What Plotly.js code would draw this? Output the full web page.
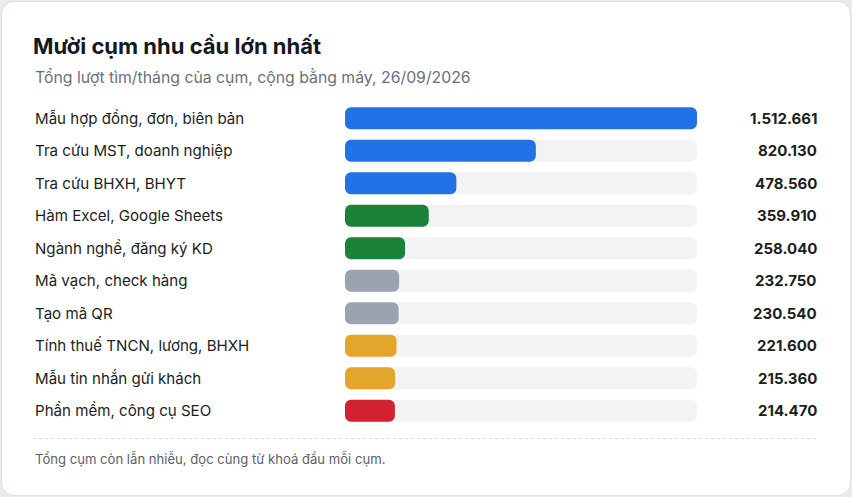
<!DOCTYPE html>
<html>
<head>
<meta charset="utf-8">
<script src="https://cdn.plot.ly/plotly-3.0.1.min.js"></script>
<style>
  html, body { margin: 0; padding: 0; background: #e9ebef; }
  #card {
    position: absolute; left: 1px; top: 1px; width: 848px; height: 493px;
    background: #ffffff; border: 1px solid #dde0e5; border-radius: 13px;
  }
  #chart { position: absolute; left: 0; top: 0; width: 852px; height: 497px; }
</style>
</head>
<body>
<div id="card"></div>
<div id="chart"></div>
<script>
// Top 10 clusters, in display order (top to bottom)
const categories = [
  'Mẫu hợp đồng, đơn, biên bản',
  'Tra cứu MST, doanh nghiệp',
  'Tra cứu BHXH, BHYT',
  'Hàm Excel, Google Sheets',
  'Ngành nghề, đăng ký KD',
  'Mã vạch, check hàng',
  'Tạo mã QR',
  'Tính thuế TNCN, lương, BHXH',
  'Mẫu tin nhắn gửi khách',
  'Phần mềm, công cụ SEO',
];
const searches = [1512661, 820130, 478560, 359910, 258040, 232750, 230540, 221600, 215360, 214470];

// bar colours per row
const barColors = ['#2271e6', '#2271e6', '#2271e6', '#1c8139', '#1c8139',
  '#9ca3ae', '#9ca3ae', '#e3a62a', '#e3a62a', '#d2212f'];

const W = 852, H = 497;
const plotTop = 101.8, plotBottom = 426.6;
const plotH = plotBottom - plotTop;

// convert a pixel y (from top) to paper y
function py(px) {
  return (plotBottom - px) / plotH;
}

function fmtVN(n) {
  return String(n).replace(/\B(?=(\d{3})+(?!\d))/g, '.');
}

const maxVal = Math.max(...searches);
const tracks = categories.map(() => maxVal);

// with an explicit base Plotly rounds both ends of the bar
function roundedBar(vals, color) {
  return {
    type: 'bar', orientation: 'h', y: categories,
    base: vals.map(() => 0),
    x: vals,
    marker: { color: color, cornerradius: 6, line: { width: 0 } },
    width: 0.68, hoverinfo: 'skip',
  };
}

var traces = [roundedBar(tracks, '#f2f3f5'), roundedBar(searches, barColors)];

var annotations = [];

// Row labels (left) and values (right)
categories.forEach((c, i) => {
  annotations.push({
    xref: 'paper', yref: 'y', x: 33 / W, y: c, xanchor: 'left', yanchor: 'middle',
    text: c, showarrow: false,
    font: { family: 'Inter, sans-serif', size: 15.1, color: '#1b1e22' },
  });
  annotations.push({
    xref: 'paper', yref: 'y', x: 819 / W, y: c, xanchor: 'right', yanchor: 'middle',
    text: '<b>' + fmtVN(searches[i]) + '</b>', showarrow: false,
    font: { family: 'Inter, sans-serif', size: 15, color: '#1b1e22' },
  });
});

// Subtitle
annotations.push({
  xref: 'paper', yref: 'paper', x: 33 / W, y: py(77), xanchor: 'left', yanchor: 'middle',
  text: 'Tổng lượt tìm/tháng của cụm, cộng bằng máy, 26/09/2026', showarrow: false,
  font: { family: 'Inter, sans-serif', size: 15.8, color: '#6b7078' },
});

// Footnote
annotations.push({
  xref: 'paper', yref: 'paper', x: 33 / W, y: py(458), xanchor: 'left', yanchor: 'middle',
  text: 'Tổng cụm còn lẫn nhiễu, đọc cùng từ khoá đầu mỗi cụm.', showarrow: false,
  font: { family: 'Inter, sans-serif', size: 13.1, color: '#5b6068' },
});

var layout = {
  width: W,
  height: H,
  margin: { l: 0, r: 0, t: plotTop, b: H - plotBottom, pad: 0 },
  paper_bgcolor: 'rgba(0,0,0,0)',
  plot_bgcolor: 'rgba(0,0,0,0)',
  showlegend: false,
  barmode: 'overlay',
  title: {
    text: '<b>Mười cụm nhu cầu lớn nhất</b>',
    xref: 'paper', x: 33 / W, xanchor: 'left',
    yref: 'container', y: 1 - 46 / H, yanchor: 'middle',
    font: { family: 'Inter, sans-serif', size: 22, color: '#15181c' },
  },
  xaxis: {
    domain: [345 / W, 697 / W],
    range: [0, maxVal],
    visible: false,
    fixedrange: true,
  },
  yaxis: {
    autorange: 'reversed',
    visible: false,
    fixedrange: true,
  },
  annotations: annotations,
  shapes: [
    {
      type: 'line', xref: 'paper', yref: 'paper',
      x0: 33 / W, x1: 819 / W, y0: py(438), y1: py(438),
      line: { color: '#d6d9de', width: 1, dash: 'dot' },
    },
  ],
};

var config = { responsive: false, displayModeBar: false, staticPlot: true };

Plotly.newPlot('chart', traces, layout, config);
</script>
</body>
</html>
